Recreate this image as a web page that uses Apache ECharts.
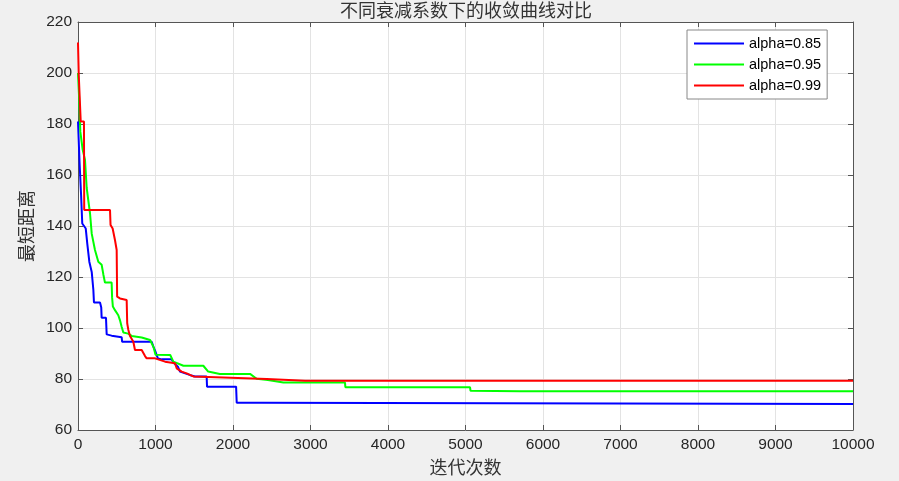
<!DOCTYPE html>
<html>
<head>
<meta charset="utf-8">
<style>
  html, body { margin: 0; padding: 0; background: #f0f0f0; }
  #main { width: 899px; height: 481px; }
</style>
<script src="https://cdn.jsdelivr.net/npm/echarts@6/dist/echarts.min.js"></script>
</head>
<body>
<div id="main"></div>
<script>
  // 迭代次数 / 最短距离
  const blueIter = [0, 20, 40, 55, 100, 120, 146, 177, 198, 206, 284, 300, 305, 361, 370, 434, 440, 563, 570, 951, 972, 1000, 1032, 1080, 1208, 1230, 1290, 1316, 1450, 1510, 1660, 1665, 2040, 2048, 2370, 2375, 10000]
  const blueVal = [181, 165, 152, 141, 139, 133, 126, 122, 115, 110, 110, 108, 104, 104, 97.5, 97, 96.4, 96.4, 94.6, 94.6, 92.7, 90.7, 88, 87.7, 87.7, 86.5, 84.8, 82.9, 81.5, 81, 81, 77, 77, 70.7, 70.7, 70.2, 70.2]

  const greenIter = [0, 15, 30, 48, 60, 90, 112, 133, 155, 177, 219, 262, 305, 327, 348, 434, 440, 450, 477, 520, 542, 563, 585, 648, 692, 822, 930, 951, 975, 1000, 1020, 1190, 1230, 1360, 1617, 1680, 1830, 2220, 2305, 2450, 2650, 3445, 3450, 5058, 5065, 5700, 10000]
  const greenVal = [200, 190, 177, 176.5, 170, 166, 155, 150, 145, 137, 130.6, 126, 124.8, 121, 117.8, 117.8, 112, 108.4, 107, 105, 103, 100.5, 98.2, 97.8, 96.9, 96.3, 95.3, 94.6, 92.5, 89.5, 89.4, 89.4, 86.8, 85.2, 85.2, 82.9, 82, 82, 80.1, 79.6, 78.6, 78.6, 76.8, 76.8, 75.4, 75.2, 75.2]

  const redIter = [0, 10, 25, 35, 77, 80, 413, 420, 447, 477, 499, 505, 542, 628, 635, 650, 671, 714, 735, 822, 865, 886, 994, 1015, 1123, 1252, 1273, 1338, 1402, 1488, 1875, 2435, 2930, 10000]
  const redVal = [212, 199, 199, 181, 181, 146.3, 146.3, 140.4, 139, 134.5, 130.6, 112.3, 111.6, 111, 101.8, 99.2, 96.9, 94.6, 91.4, 91.4, 89, 88.1, 88.1, 87.5, 86.8, 86.2, 84.2, 82.9, 82.2, 81, 80.6, 80, 79.3, 79.3]

  const seriesNames = ['alpha=0.85', 'alpha=0.95', 'alpha=0.99']
  const xTicks = { min: 0, max: 10000, interval: 1000 }
  const yTicks = { min: 60, max: 220, interval: 20 }

  function pairs (xs, ys) {
    let out = []
    for (let i = 0; i < xs.length; i++) {
      out.push([xs[i], ys[i]])
    }
    return out
  }

  let chart = echarts.init(document.getElementById('main'))

  const axisColor = '#555'
  const cjkStyle = { fontFamily: 'Noto Sans CJK SC', fontSize: 18, fontWeight: 'normal', color: '#333' }
  const labelStyle = {
    color: '#262626',
    fontFamily: 'Liberation Sans, Arial',
    fontSize: 15.5,
    formatter: function (v) { return String(v) }
  }

  let option = {
    backgroundColor: '#f0f0f0',
    animation: false,
    title: {
      text: '不同衰减系数下的收敛曲线对比',
      left: 466,
      textAlign: 'center',
      top: 0,
      padding: [1, 0, 0, 0],
      textStyle: cjkStyle
    },
    legend: {
      orient: 'vertical',
      left: 687,
      top: 30,
      padding: [6, 6, 6, 6],
      itemWidth: 50,
      itemHeight: 14,
      itemGap: 6,
      backgroundColor: '#fff',
      borderColor: '#888',
      borderWidth: 1,
      borderRadius: 0,
      itemStyle: { opacity: 0 },
      data: seriesNames,
      textStyle: { fontFamily: 'Liberation Sans, Arial', fontSize: 14.5, color: '#000' }
    },
    grid: {
      left: 78,
      right: 46,
      top: 22,
      bottom: 51,
      show: true,
      backgroundColor: '#fff',
      borderWidth: 0
    },
    xAxis: [
      {
        type: 'value',
        min: xTicks.min,
        max: xTicks.max,
        interval: xTicks.interval,
        name: '迭代次数',
        nameLocation: 'middle',
        nameGap: 28,
        nameTextStyle: cjkStyle,
        axisLine: { show: true, onZero: false, lineStyle: { color: axisColor, width: 1 } },
        axisTick: { show: true, inside: true, length: 5, lineStyle: { color: axisColor } },
        axisLabel: Object.assign({ margin: 7 }, labelStyle),
        splitLine: { show: true, lineStyle: { color: '#e3e3e3', width: 1 } }
      },
      {
        type: 'value',
        position: 'top',
        min: xTicks.min,
        max: xTicks.max,
        interval: xTicks.interval,
        axisLine: { show: true, onZero: false, lineStyle: { color: axisColor, width: 1 } },
        axisTick: { show: true, inside: true, length: 5, lineStyle: { color: axisColor } },
        axisLabel: { show: false },
        splitLine: { show: false }
      }
    ],
    yAxis: [
      {
        type: 'value',
        min: yTicks.min,
        max: yTicks.max,
        interval: yTicks.interval,
        name: '最短距离',
        nameLocation: 'middle',
        nameGap: 42,
        nameTextStyle: cjkStyle,
        axisLine: { show: true, onZero: false, lineStyle: { color: axisColor, width: 1 } },
        axisTick: { show: true, inside: true, length: 5, lineStyle: { color: axisColor } },
        axisLabel: Object.assign({ margin: 6 }, labelStyle),
        splitLine: { show: true, lineStyle: { color: '#e3e3e3', width: 1 } }
      },
      {
        type: 'value',
        position: 'right',
        min: yTicks.min,
        max: yTicks.max,
        interval: yTicks.interval,
        axisLine: { show: true, onZero: false, lineStyle: { color: axisColor, width: 1 } },
        axisTick: { show: true, inside: true, length: 5, lineStyle: { color: axisColor } },
        axisLabel: { show: false },
        splitLine: { show: false }
      }
    ],
    series: [
      {
        name: seriesNames[0],
        type: 'line',
        symbol: 'none',
        data: pairs(blueIter, blueVal),
        itemStyle: { color: '#0000ff' },
        lineStyle: { color: '#0000ff', width: 2 }
      },
      {
        name: seriesNames[1],
        type: 'line',
        symbol: 'none',
        data: pairs(greenIter, greenVal),
        itemStyle: { color: '#00ff00' },
        lineStyle: { color: '#00ff00', width: 2 }
      },
      {
        name: seriesNames[2],
        type: 'line',
        symbol: 'none',
        data: pairs(redIter, redVal),
        itemStyle: { color: '#ff0000' },
        lineStyle: { color: '#ff0000', width: 2 }
      }
    ]
  }

  chart.setOption(option)
</script>
</body>
</html>
